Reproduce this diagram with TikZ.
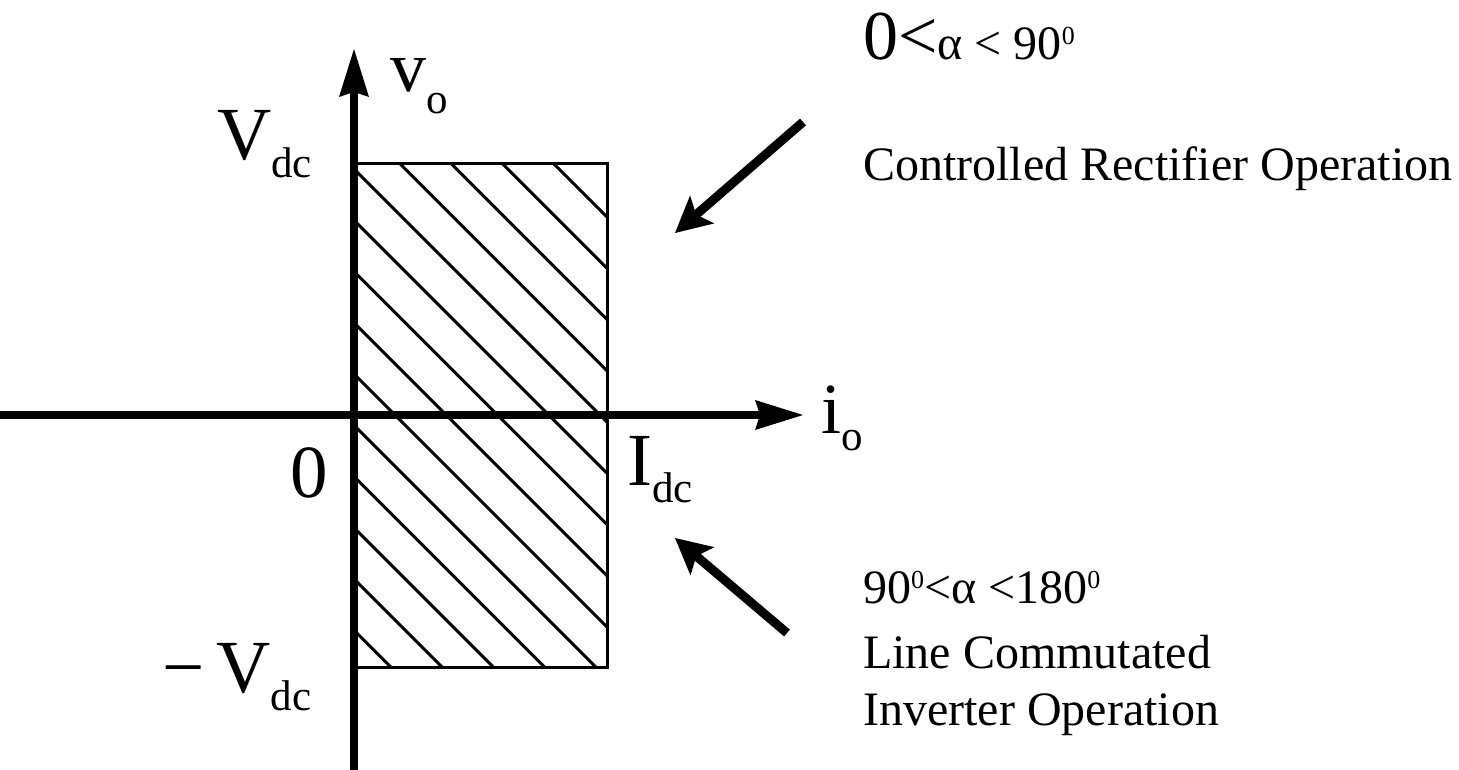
\documentclass[tikz,border=0pt]{standalone}
\usepackage{fontspec}
\setmainfont{Liberation Serif}
\usetikzlibrary{arrows.meta,positioning}
\newcommand{\lblsize}{\fontsize{75}{75}\selectfont}
\newcommand{\varsize}{\fontsize{72}{72}\selectfont}
\newcommand{\subsize}{\fontsize{43}{43}\selectfont}
\newcommand{\txtsize}{\fontsize{48}{48}\selectfont}
\newcommand{\degsup}{\raisebox{15pt}{\fontsize{26}{26}\selectfont 0}}

\begin{document}
\begin{tikzpicture}[x=1pt, y=-1pt,
  axis/.style={line width=8pt, -{Stealth[length=48pt, width=30pt, inset=5pt, line width=0pt]}},
  pointer/.style={line width=9pt, -{Stealth[length=36pt, width=37pt, inset=8pt, line width=0pt]}},
  hatch/.style={line width=3pt},
  lbl/.style={inner sep=0pt, anchor=base west},
]
  \useasboundingbox (0,0) rectangle (1459,770);

  % axes end points
  \coordinate (vbot) at (354,770);
  \coordinate (vtop) at (354,49);
  \coordinate (hleft) at (0,415);
  \coordinate (hright) at (803,415);

  % hatched operating region
  \begin{scope}
    \clip (354,164) rectangle (607,667);
    \foreach \k in {0,...,14}
      \draw[hatch] (354,{-36+51.25*\k}) -- (607,{217+51.25*\k});
  \end{scope}
  \draw[line width=3pt] (354,164) rectangle (607,667);

  \draw[axis] (vbot) -- (vtop);
  \draw[axis] (hleft) -- (hright);

  % axis labels
  \node[lbl] (vo) at (390,92) {\varsize v\raisebox{-22pt}{\subsize o}};
  \node[lbl] (io) at (821,433) {\varsize i\raisebox{-17pt}{\subsize o}};
  \node[lbl] (vdc) at (217,160) {\lblsize V\raisebox{-18pt}{\subsize dc}};
  \node[lbl] (mvdc) at (162,692) {\lblsize −\hspace{12pt}V\raisebox{-18pt}{\subsize dc}};
  \node[lbl] (zero) at (290,497) {\lblsize 0};
  \node[lbl] (idc) at (627,485) {\lblsize I\raisebox{-17pt}{\subsize dc}};

  % operating modes
  \node[lbl] (rectcond) at (863,60) {{\fontsize{70}{70}\selectfont 0<}\txtsize α < 90\degsup};
  \node[lbl] (recttext) at (863,181) {\txtsize Controlled Rectifier Operation};
  \node[lbl] (invcond) at (863,603) {\txtsize 90\degsup<α <180\degsup};
  \node[lbl] (invtext) at (863,668) {\txtsize Line Commutated};
  \node[lbl] (invtextb) at (863,725) {\txtsize Inverter Operation};

  \coordinate (rectfrom) at (803,122);
  \coordinate (rectto) at (675,233);
  \coordinate (invfrom) at (787,633);
  \coordinate (invto) at (675,538);
  \draw[pointer] (rectfrom) -- (rectto);
  \draw[pointer] (invfrom) -- (invto);
\end{tikzpicture}
\end{document}
